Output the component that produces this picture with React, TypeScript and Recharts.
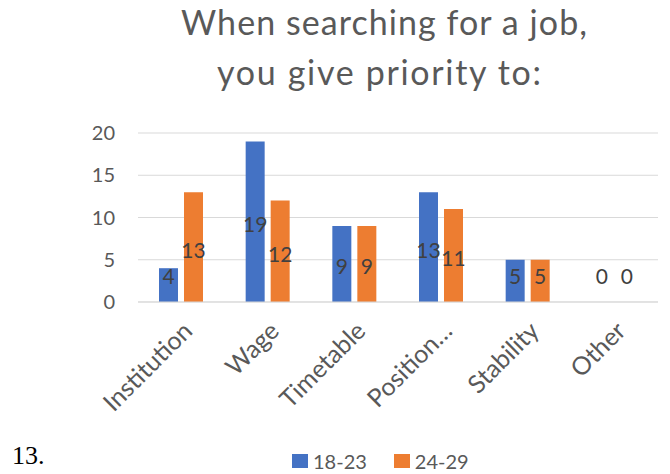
import React from "react";
import {
  BarChart,
  Bar,
  XAxis,
  YAxis,
  CartesianGrid,
  Legend,
  LabelList
} from "recharts";

const categories = ["Institution", "Wage", "Timetable", "Position…", "Stability", "Other"];
const age1823 = [4, 19, 9, 13, 5, 0];
const age2429 = [13, 12, 9, 11, 5, 0];
const yTicks = [0, 5, 10, 15, 20];
const seriesNames = ["18-23", "24-29"];
const colors = ["#4472C4", "#ED7D31"];

const data = categories.map((name, i) => ({
  name,
  a: age1823[i],
  b: age2429[i]
}));

const FONT = "Lato, 'Open Sans', sans-serif";
const GREY = "#595959";

// Excel-style centered label, kept off the axis for short bars
const CenterLabel = (props: any) => {
  const { x, y, width, height, value } = props;
  const cx = Number(x) + Number(width) / 2;
  const base = Number(y) + Number(height);
  const cy = Math.min(Number(y) + Number(height) / 2 + 2, base - 27);
  return (
    <text
      x={cx}
      y={cy}
      textAnchor="middle"
      dominantBaseline="central"
      fill="#404040"
      fontSize={21}
      fontFamily={FONT}
    >
      {String(value)}
    </text>
  );
};

const LegendContent = () => (
  <div
    style={{
      display: "flex",
      alignItems: "center",
      paddingLeft: 292,
      paddingTop: 9,
      fontFamily: FONT,
      fontSize: 20,
      color: GREY,
      lineHeight: "24px"
    }}
  >
    {seriesNames.map((s, i) => (
      <span key={s} style={{ display: "flex", alignItems: "center", marginRight: 27 }}>
        <span style={{ width: 16, height: 14, background: colors[i], marginRight: 5, display: "inline-block" }} />
        {s}
      </span>
    ))}
  </div>
);

const App: React.FC = () => {
  return (
    <div style={{ position: "absolute", left: 0, top: 0, width: 670, height: 474, background: "#fff" }}>
      <svg width={670} height={110} style={{ position: "absolute", left: 0, top: 0 }}>
        <text x={384} y={35} textAnchor="middle" fill={GREY} fontSize={34} fontFamily={FONT}
          textLength={406} lengthAdjust="spacing">
          When searching for a job,
        </text>
        <text x={379} y={85} textAnchor="middle" fill={GREY} fontSize={34} fontFamily={FONT}
          textLength={324} lengthAdjust="spacing">
          you give priority to:
        </text>
      </svg>

      <BarChart
        width={670}
        height={474}
        data={data}
        margin={{ top: 133, right: 12, bottom: 0, left: 0 }}
        barSize={19}
        barGap={6}
      >
        <CartesianGrid vertical={false} stroke="#d9d9d9" />
        <XAxis
          dataKey="name"
          height={138}
          interval={0}
          tickLine={false}
          axisLine={{ stroke: "#d9d9d9" }}
          tickSize={6}
          tickMargin={12}
          angle={-45}
          textAnchor="end"
          tick={{ fill: GREY, fontSize: 25, fontFamily: FONT }}
        />
        <YAxis
          width={138}
          domain={[0, 20]}
          ticks={yTicks}
          axisLine={false}
          tickLine={false}
          tickSize={6}
          tickMargin={17}
          tick={{ fill: GREY, fontSize: 20, fontFamily: FONT }}
        />
        <Legend verticalAlign="bottom" height={34} content={<LegendContent />} />
        <Bar dataKey="a" name={seriesNames[0]} fill={colors[0]} minPointSize={0.001} isAnimationActive={false}>
          <LabelList dataKey="a" content={<CenterLabel />} />
        </Bar>
        <Bar dataKey="b" name={seriesNames[1]} fill={colors[1]} minPointSize={0.001} isAnimationActive={false}>
          <LabelList dataKey="b" content={<CenterLabel />} />
        </Bar>
      </BarChart>

      <div
        style={{
          position: "absolute",
          left: 12,
          top: 441,
          fontFamily: "'Liberation Serif', serif",
          fontSize: 26,
          color: "#000"
        }}
      >
        13.
      </div>
    </div>
  );
};

export default App;
